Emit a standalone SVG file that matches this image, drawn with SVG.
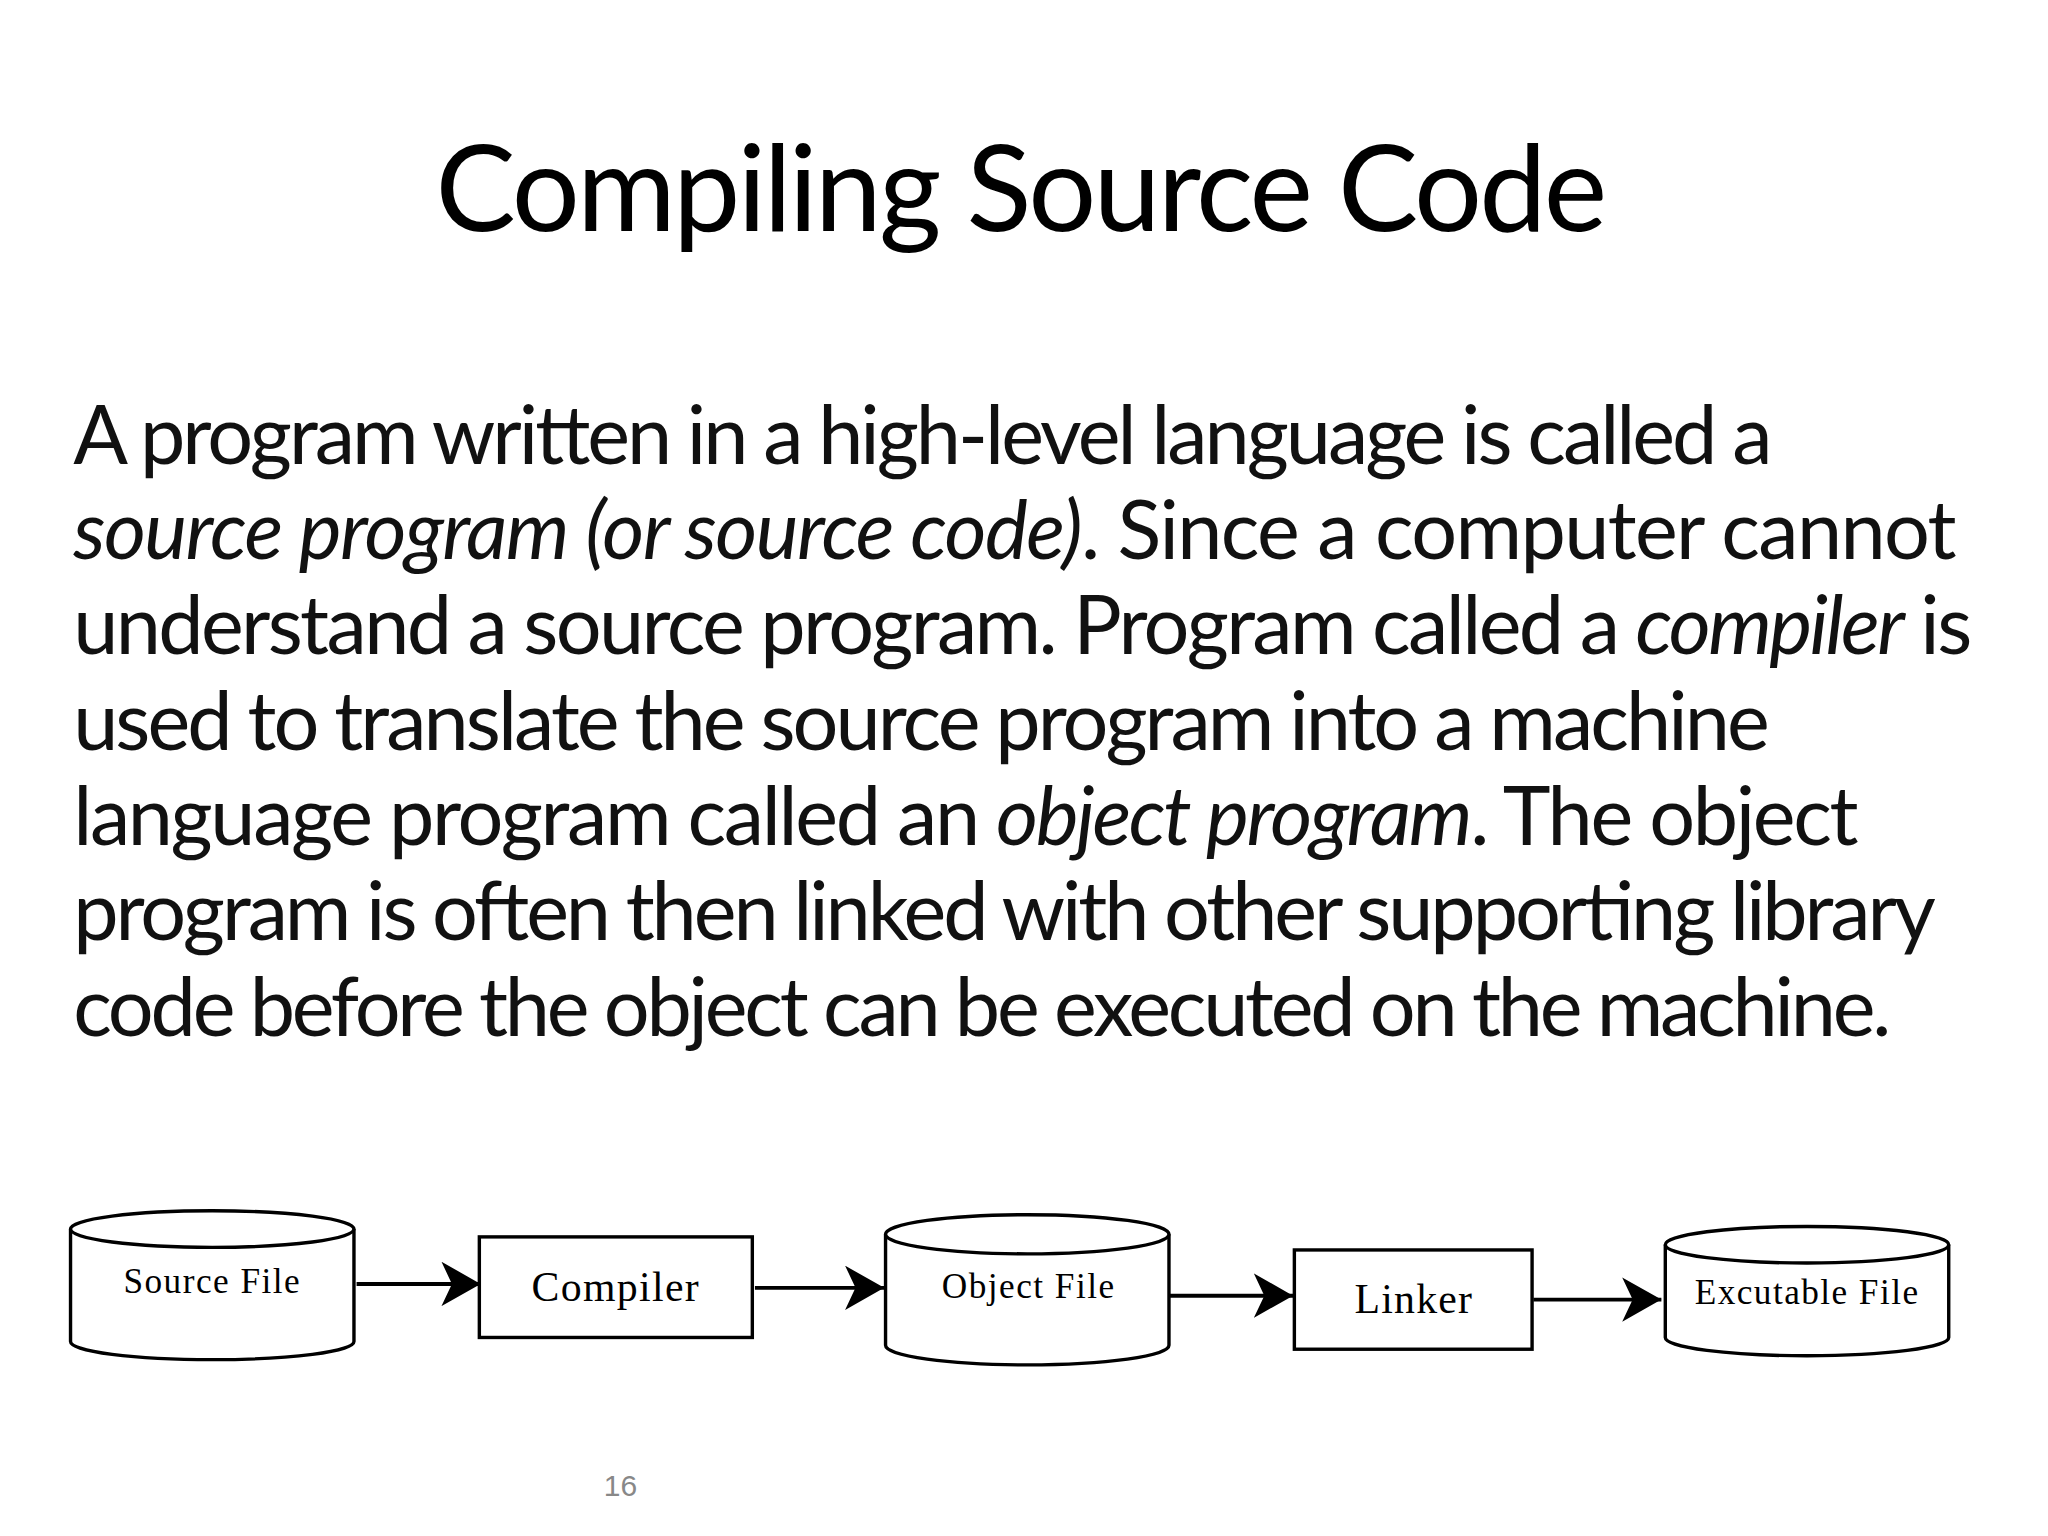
<svg xmlns="http://www.w3.org/2000/svg" width="2048" height="1536" viewBox="0 0 2048 1536">
<defs>
<style>
.t{font-family:Lato,"Open Sans",sans-serif;fill:#000}
.b{font-family:Lato,"Open Sans",sans-serif;font-size:62px;fill:#111}
.i{font-style:italic}
.n{fill:#fff;stroke:#000;stroke-width:2.6}
.l{font-family:"Liberation Serif",serif;fill:#000;text-anchor:middle}
.c{stroke:#000;stroke-width:3;fill:none}
</style>
<marker id="ah" markerUnits="userSpaceOnUse" markerWidth="34" markerHeight="34" refX="30" refY="17" orient="auto">
<path d="M0,0 L30,17 L0,34 L8,17 Z" fill="#000"/>
</marker>
</defs>
<rect width="2048" height="1536" fill="#fff"/>
<g transform="scale(1.30612)">
<text class="t" x="782" y="177" font-size="92" text-anchor="middle" textLength="897">Compiling Source Code</text>
<g id="body">
<text class="b" x="56" y="355" textLength="1301">A program written in a high-level language is called a</text>
<text class="b" x="56" y="428" textLength="1442"><tspan class="i">source program (or source code)</tspan>. Since a computer cannot</text>
<text class="b" x="56" y="501" textLength="1454">understand a source program. Program called a <tspan class="i">compiler</tspan> is</text>
<text class="b" x="56" y="574" textLength="1299">used to translate the source program into a machine</text>
<text class="b" x="56" y="647" textLength="1367">language program called an <tspan class="i">object program</tspan>. The object</text>
<text class="b" x="56" y="720" textLength="1426">program is often then linked with other supporting library</text>
<text class="b" x="56" y="793" textLength="1392">code before the object can be executed on the machine.</text>
</g>
<g id="connectors">
<line class="c" x1="273" y1="983" x2="368" y2="983" marker-end="url(#ah)"/>
<line class="c" x1="578" y1="986" x2="677" y2="986" marker-end="url(#ah)"/>
<line class="c" x1="891" y1="992" x2="990" y2="992" marker-end="url(#ah)"/>
<line class="c" x1="1174" y1="995" x2="1272" y2="995" marker-end="url(#ah)"/>
</g>
<g id="source">
<path class="n" d="M54,941 V1027 A108.5,14 0 0 0 271,1027 V941"/>
<ellipse class="n" cx="162.5" cy="941" rx="108.5" ry="14"/>
<text class="l" x="162" y="990" font-size="27" textLength="135">Source File</text>
</g>
<g id="compiler">
<rect class="n" x="367" y="947" width="209" height="77"/>
<text class="l" x="471" y="996" font-size="32" textLength="128">Compiler</text>
</g>
<g id="object">
<path class="n" d="M678,945 V1030 A108.5,15 0 0 0 895,1030 V945"/>
<ellipse class="n" cx="786.5" cy="945" rx="108.5" ry="15"/>
<text class="l" x="787" y="994" font-size="27" textLength="132">Object File</text>
</g>
<g id="linker">
<rect class="n" x="991" y="957" width="182" height="76"/>
<text class="l" x="1082" y="1005" font-size="32" textLength="90">Linker</text>
</g>
<g id="exec">
<path class="n" d="M1275,953 V1024 A108.5,14 0 0 0 1492,1024 V953"/>
<ellipse class="n" cx="1383.5" cy="953" rx="108.5" ry="14"/>
<text class="l" x="1383" y="998" font-size="27" textLength="171">Excutable File</text>
</g>
<text x="475" y="1145" font-family="'Liberation Sans',sans-serif" font-size="23" fill="#888" text-anchor="middle">16</text>
</g>
</svg>
